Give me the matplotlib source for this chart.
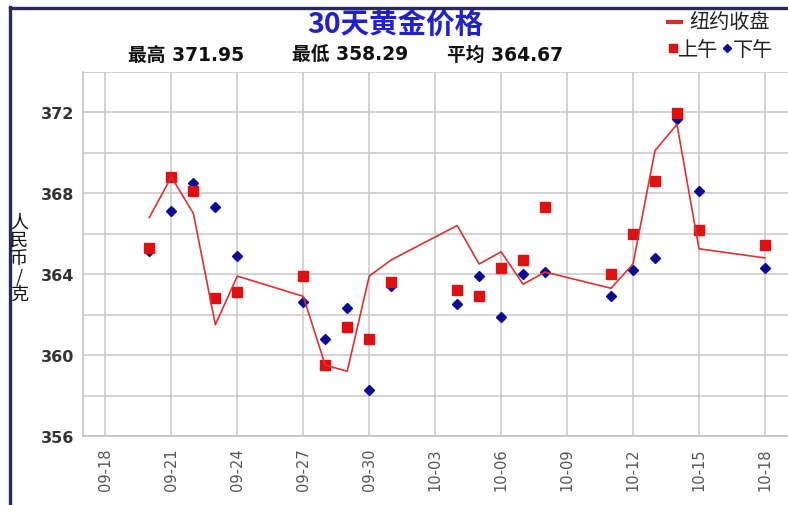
import matplotlib
matplotlib.use("Agg")
import matplotlib.pyplot as plt
import matplotlib.dates as mdates
from matplotlib.lines import Line2D
import pandas as pd

plt.rcParams['font.family'] = ['Noto Sans CJK SC', 'DejaVu Sans']

YEAR = "2010-"

# 纽约收盘 (line)
close_dates = ["09-20", "09-21", "09-22", "09-23", "09-24", "09-27", "09-28", "09-29",
               "09-30", "10-01", "10-04", "10-05", "10-06", "10-07", "10-08", "10-11",
               "10-12", "10-13", "10-14", "10-15", "10-18"]
close_vals = [366.8, 368.8, 367.0, 361.5, 363.9, 362.9, 359.5, 359.2,
              363.9, 364.7, 366.4, 364.5, 365.1, 363.5, 364.1, 363.3,
              364.5, 370.1, 371.4, 365.25, 364.8]

# 上午 (red squares)
am_dates = ["09-20", "09-21", "09-22", "09-23", "09-24", "09-27", "09-28", "09-29",
            "09-30", "10-01", "10-04", "10-05", "10-06", "10-07", "10-08", "10-11",
            "10-12", "10-13", "10-14", "10-15", "10-18"]
am_vals = [365.3, 368.8, 368.1, 362.8, 363.1, 363.9, 359.5, 361.4,
           360.8, 363.6, 363.2, 362.9, 364.3, 364.7, 367.3, 364.0,
           366.0, 368.6, 371.95, 366.2, 365.45]

# 下午 (blue diamonds)
pm_dates = ["09-20", "09-21", "09-22", "09-23", "09-24", "09-27", "09-28", "09-29",
            "09-30", "10-01", "10-04", "10-05", "10-06", "10-07", "10-08", "10-11",
            "10-12", "10-13", "10-14", "10-15", "10-18"]
pm_vals = [365.15, 367.1, 368.5, 367.3, 364.9, 362.6, 360.8, 362.3,
           358.29, 363.4, 362.5, 363.9, 361.9, 364.0, 364.1, 362.9,
           364.2, 364.8, 371.65, 368.1, 364.3]

tick_labels = ["09-18", "09-21", "09-24", "09-27", "09-30", "10-03",
               "10-06", "10-09", "10-12", "10-15", "10-18"]
y_ticks = [356, 360, 364, 368, 372]
y_grid = [358, 362, 366, 370, 374]

title = "30天黄金价格"
stats = [("最高", "371.95"), ("最低", "358.29"), ("平均", "364.67")]


def to_dt(lst):
    return pd.to_datetime([YEAR + d for d in lst])


W, H = 788, 506
fig = plt.figure(figsize=(W / 100, H / 100), dpi=100)
fig.patch.set_facecolor("white")

left_px, right_px, top_px, bot_px = 83, 788, 72.7, 437
ax = fig.add_axes([left_px / W, 1 - bot_px / H, (right_px - left_px) / W, (bot_px - top_px) / H])

ax.plot(to_dt(pm_dates), pm_vals, linestyle="none", marker="D", markersize=5.4,
        color="#0a0a9a", zorder=3)
ax.plot(to_dt(am_dates), am_vals, linestyle="none", marker="s", markersize=7,
        color="#e01010", zorder=4)
ax.plot(to_dt(close_dates), close_vals, color="#e03030", linewidth=1.2, zorder=5)

t0 = pd.Timestamp(YEAR + "09-18")
ax.set_xlim(mdates.date2num(t0) - 1.02, mdates.date2num(t0) + 31.05)
ax.set_ylim(356, 374)

ax.set_xticks(to_dt(tick_labels))
ax.set_xticklabels(tick_labels, rotation=90, fontsize=10.5, color="#555555",
                   family="DejaVu Sans")
ax.set_yticks(y_ticks)
ax.set_yticklabels([str(v) for v in y_ticks], fontsize=11.5, color="#333333",
                   fontweight="bold", family="DejaVu Sans")
ax.set_yticks(y_grid, minor=True)
ax.tick_params(axis="both", which="both", length=0)
ax.tick_params(axis="x", pad=8)
ax.tick_params(axis="y", pad=6)

ax.grid(True, which="major", color="#c8c8c8", linewidth=1.1)
ax.grid(True, which="minor", axis="y", color="#c8c8c8", linewidth=1.1)
ax.set_axisbelow(True)
for s in ["top", "right"]:
    ax.spines[s].set_visible(False)
for s in ["left", "bottom"]:
    ax.spines[s].set_color("#c0c0c0")
    ax.spines[s].set_linewidth(1.1)

# Frame
fig.add_artist(Line2D([10 / W, 10 / W], [0, 1 - 8 / H], color="#2a2a58", linewidth=2.4,
                      transform=fig.transFigure))
fig.add_artist(Line2D([10 / W, 1], [1 - 9 / H, 1 - 9 / H], color="#2a2a58", linewidth=2.4,
                      transform=fig.transFigure))

# Title
fig.text(395 / W, 1 - 25 / H, title, ha="center", va="center", fontsize=20.5,
         color="#2020d0", fontweight="bold")

# Stats
xs = [128, 292, 447]
for (lab, val), x in zip(stats, xs):
    fig.text(x / W, 1 - 55 / H, lab + " " + val, ha="left", va="center", fontsize=13.5,
             color="#111111", fontweight="bold",
             family=["DejaVu Sans", "Noto Sans CJK SC"])

# Y label
fig.text(19 / W, 1 - 259 / H, "人\n民\n币\n/\n克", ha="center", va="center", fontsize=13,
         color="#111111", linespacing=1.0)

# Legend
fig.add_artist(Line2D([668 / W, 681 / W], [1 - 22.5 / H, 1 - 22.5 / H], color="#e02828",
                      linewidth=3, transform=fig.transFigure))
fig.text(689 / W, 1 - 22.5 / H, "纽约收盘", ha="left", va="center", fontsize=14.5,
         color="#222222")
fig.add_artist(Line2D([673 / W], [1 - 49 / H], marker="s", markersize=6, color="#e01010",
                      linestyle="none", transform=fig.transFigure))
fig.text(678 / W, 1 - 50 / H, "上午", ha="left", va="center", fontsize=14.5, color="#222222")
fig.add_artist(Line2D([727 / W], [1 - 49 / H], marker="D", markersize=4.5, color="#0a0a9a",
                      linestyle="none", transform=fig.transFigure))
fig.text(733 / W, 1 - 50 / H, "下午", ha="left", va="center", fontsize=14.5, color="#222222")

fig.savefig("out.png", dpi=100, facecolor="white")
